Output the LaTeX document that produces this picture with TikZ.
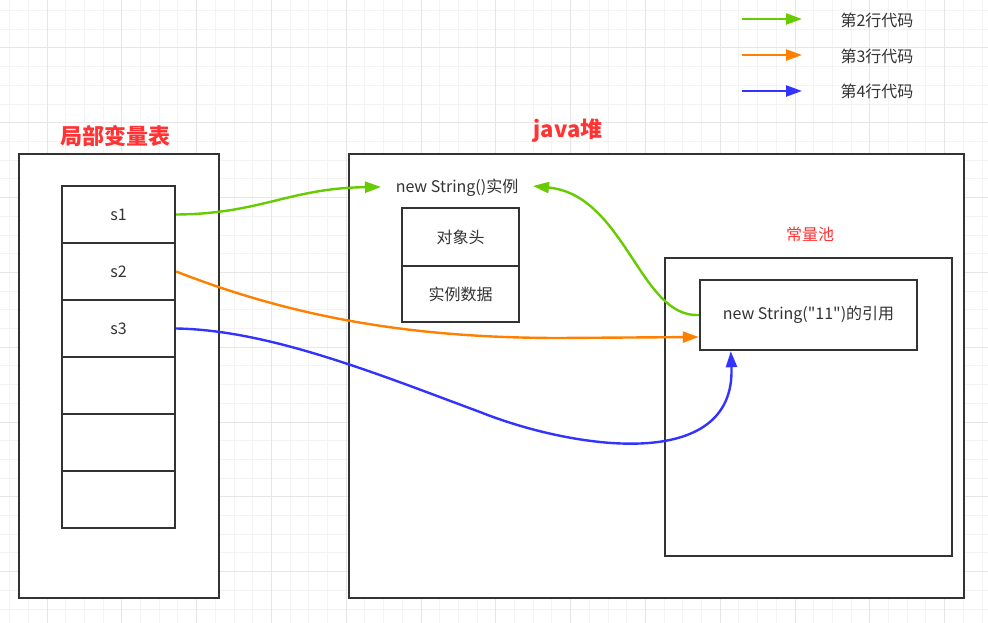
\documentclass[tikz,border=0pt]{standalone}
\usepackage{fontspec}
\setmainfont{Noto Sans CJK SC}[Ligatures=TeXOff]
\usetikzlibrary{arrows.meta,calc}
\definecolor{ink}{HTML}{333333}
\definecolor{gridminor}{HTML}{F3F3F3}
\definecolor{gridmajor}{HTML}{E6E6E6}
\definecolor{titlered}{HTML}{FF3333}
\definecolor{cgreen}{HTML}{66CC00}
\definecolor{corange}{HTML}{FF8000}
\definecolor{cblue}{HTML}{3333FF}
\begin{document}
\begin{tikzpicture}[x=1pt,y=-1pt,
  box/.style={draw=ink, line width=2.4pt, fill=white, inner sep=0pt, text=ink,
              font=\fontsize{16}{18}\selectfont},
  lbl/.style={text=ink, inner sep=0pt, font=\fontsize{16}{18}\selectfont},
  title/.style={text=titlered, inner sep=0pt, font=\fontsize{22}{24}\selectfont\bfseries},
  conn/.style={line width=2.4pt, -{Triangle[length=16pt,width=11pt]}},
  gconn/.style={conn, draw=cgreen},
  oconn/.style={conn, draw=corange},
  bconn/.style={conn, draw=cblue}]
\useasboundingbox (0,0) rectangle (988,623);
\fill[white] (0,0) rectangle (988,623);
% grid
\foreach \i in {0,...,52} \draw[gridminor, line width=1pt] ({9.6+18.7*\i},0) -- ({9.6+18.7*\i},623);
\foreach \i in {0,...,33} \draw[gridminor, line width=1pt] (0,{10.6+18.7*\i}) -- (988,{10.6+18.7*\i});
\foreach \i in {0,...,12} \draw[gridmajor, line width=1pt] ({47+74.8*\i},0) -- ({47+74.8*\i},623);
\foreach \i in {0,...,7} \draw[gridmajor, line width=1pt] (0,{48+74.8*\i}) -- (988,{48+74.8*\i});

% local variable table
\node[title] (lvtt) at (115,136) {局部变量表};
\node[box, minimum width=200pt, minimum height=444pt] (lvt) at (119,376) {};
\node[box, minimum width=113pt, minimum height=57pt] (s1) at (118.5,214.5) {s1};
\node[box, minimum width=113pt, minimum height=57pt] (s2) at (118.5,271.5) {s2};
\node[box, minimum width=113pt, minimum height=57pt] (s3) at (118.5,328.5) {s3};
\node[box, minimum width=113pt, minimum height=57pt] (c4) at (118.5,385.5) {};
\node[box, minimum width=113pt, minimum height=57pt] (c5) at (118.5,442.5) {};
\node[box, minimum width=113pt, minimum height=57pt] (c6) at (118.5,499.5) {};

% java heap
\node[title] (heapt) at (568,131) {java堆};
\node[box, minimum width=615pt, minimum height=444pt] (heap) at (656.5,376) {};
\node[lbl] (inst) at (457,188) {new String()实例};
\node[box, minimum width=117pt, minimum height=58pt] (hdr) at (460.5,237) {对象头};
\node[box, minimum width=117pt, minimum height=56pt] (data) at (460.5,294) {实例数据};
\node[text=titlered, inner sep=0pt, font=\fontsize{16}{18}\selectfont] (poolt) at (810,234) {常量池};
\node[box, minimum width=287pt, minimum height=298pt] (pool) at (808.5,407) {};
\node[box, minimum width=217pt, minimum height=70pt] (ref) at (808.5,315) {new String("11")的引用};

\coordinate (instL) at (381,187);
\coordinate (instR) at (533,186);

% connectors
\draw[gconn] (s1.east) .. controls (260,214) and (290,188) .. (instL);
\draw[gconn] (ref.west) .. controls (640,318) and (625,195) .. (instR);
\draw[oconn] (s2.east) .. controls (300,320) and (420,338) .. (560,338) -- ($(ref.west)+(0,22)$);
\draw[bconn] (s3.east) .. controls (270,330) and (380,375) .. (480,412)
             .. controls (570,448) and (736,475) .. ($(ref.south west)+(32,0)$);

% legend
\coordinate (l2a) at (742,19); \coordinate (l2b) at (802,19);
\coordinate (l3a) at (742,55); \coordinate (l3b) at (802,55);
\coordinate (l4a) at (742,91); \coordinate (l4b) at (802,91);
\draw[gconn] (l2a) -- (l2b);
\draw[oconn] (l3a) -- (l3b);
\draw[bconn] (l4a) -- (l4b);
\node[lbl] (leg2) at (877,20) {第2行代码};
\node[lbl] (leg3) at (877,56) {第3行代码};
\node[lbl] (leg4) at (877,91) {第4行代码};
\end{tikzpicture}
\end{document}
